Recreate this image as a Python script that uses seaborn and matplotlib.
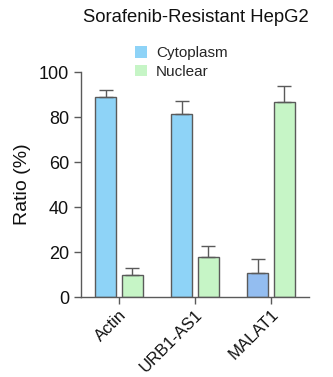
import matplotlib
matplotlib.use("Agg")
import matplotlib.pyplot as plt
import seaborn as sns
import pandas as pd

genes = ["Actin", "URB1-AS1", "MALAT1"]
fractions = ["Cytoplasm", "Nuclear"]
cyto_vals = [88.8, 81.5, 10.8]
nuc_vals = [9.8, 17.7, 86.5]
cyto_err = [3.0, 5.8, 6.2]
nuc_err = [3.0, 5.2, 7.5]

sns.set_theme(style="ticks")
plt.rcParams['font.family'] = ['Liberation Sans', 'DejaVu Sans']

df = pd.DataFrame({
    "gene": genes * 2,
    "fraction": ["Cytoplasm"] * 3 + ["Nuclear"] * 3,
    "value": cyto_vals + nuc_vals,
})

cyto_color = "#8ed3f7"
nuc_color = "#c6f5c6"
malat_cyto_color = "#93bdf0"
edge = "#5a5a5a"

fig = plt.figure(figsize=(3.33, 3.77), dpi=100)
ax = fig.add_axes([0.243, 0.212, 0.685, 0.597])

sns.barplot(data=df, x="gene", y="value", hue="fraction", order=genes,
            hue_order=fractions, palette=[cyto_color, nuc_color], saturation=1,
            width=0.7, gap=0.2, errorbar=None, edgecolor=edge, linewidth=1.0,
            ax=ax, legend=True)

patches = [p for p in ax.patches if p.get_height() > 0]
bars = sorted(patches, key=lambda p: p.get_x())
errs = []
for i in range(3):
    errs.append(cyto_err[i])
    errs.append(nuc_err[i])
for j, p in enumerate(bars):
    xc = p.get_x() + p.get_width() / 2
    h = p.get_height()
    ax.errorbar([xc], [h], yerr=[[0], [errs[j]]], fmt="none", ecolor=edge,
                elinewidth=1.0, capsize=5, capthick=1.0, zorder=1)
    if j == 4:
        p.set_facecolor(malat_cyto_color)

ax.set_ylim(0, 100)
ax.set_xlim(-0.5, 2.5)
ax.set_yticks([0, 20, 40, 60, 80, 100])
ax.set_xlabel("")
ax.set_ylabel("Ratio (%)", fontsize=14, color="#111111", labelpad=6)
ax.tick_params(axis="y", labelsize=13, length=5, width=1, color=edge, labelcolor="#111111")
ax.tick_params(axis="x", labelsize=12, length=5, width=1, color=edge, labelcolor="#111111", pad=2)
plt.setp(ax.get_xticklabels(), rotation=45, ha="right", rotation_mode="anchor")
sns.despine(ax=ax)
for s in ["left", "bottom"]:
    ax.spines[s].set_color(edge)
    ax.spines[s].set_linewidth(1.0)

leg = ax.legend(loc="lower left", bbox_to_anchor=(0.235, 0.97), frameon=False,
                fontsize=11, handlelength=0.8, handleheight=0.8, handletextpad=0.6,
                labelspacing=0.3, borderaxespad=0, borderpad=0)
for h in leg.legend_handles:
    h.set_edgecolor("none")

fig.text(0.587, 0.953, "Sorafenib-Resistant HepG2", ha="center", va="center",
         fontsize=13.3, color="#111111")

fig.savefig("out.png", dpi=100)
